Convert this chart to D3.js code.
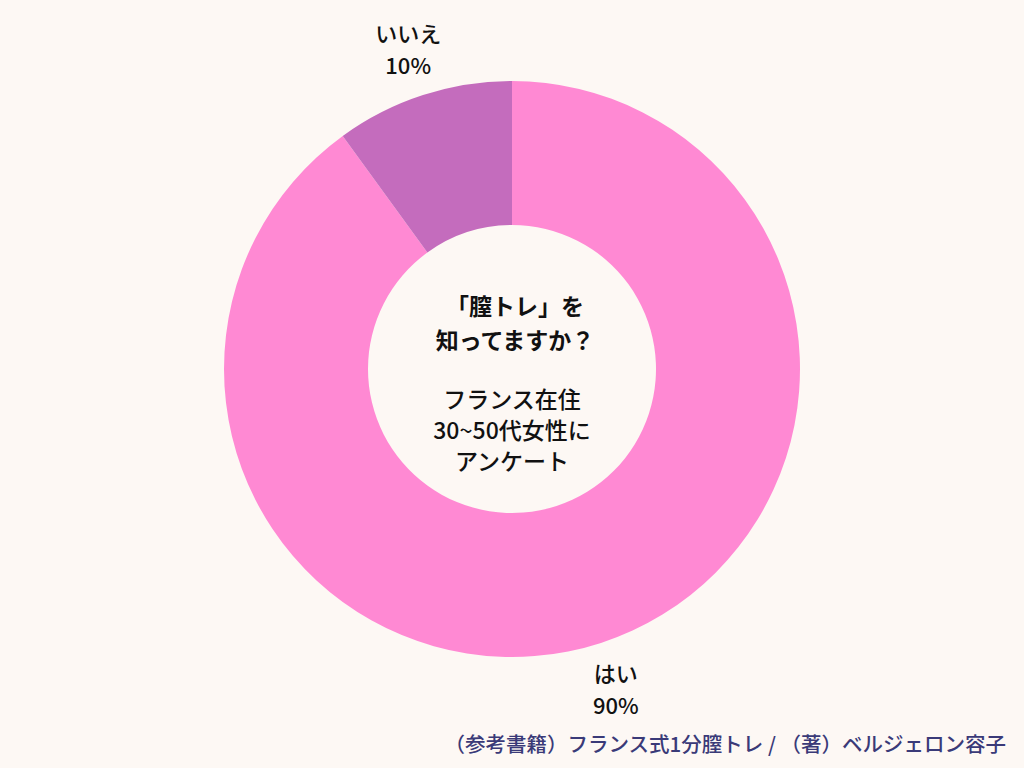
<!DOCTYPE html>
<html><head><meta charset="utf-8">
<script src="https://cdn.jsdelivr.net/npm/d3@7"></script>
<style>
html,body{margin:0;padding:0;background:#fdf8f4;}
text{font-family:"Noto Sans CJK JP","Noto Sans",sans-serif;}
</style></head>
<body>
<svg id="c" width="1024" height="768"></svg>
<script>
const categories = ["はい", "いいえ"];
const values = [90, 10];
const colors = ["#ff89d3", "#c46cbd"];
const centerTitle = ["「膣トレ」を", "知ってますか？"];
const centerSub = ["フランス在住", "30~50代女性に", "アンケート"];
const footer = "（参考書籍）フランス式1分膣トレ / （著）ベルジェロン容子";

const svg = d3.select("#c");
svg.append("rect").attr("width",1024).attr("height",768).attr("fill","#fdf8f4");
const cx = 512, cy = 369, R = 288, r = 144;
const g = svg.append("g").attr("transform",`translate(${cx},${cy})`);
const pie = d3.pie().sort(null).value(d=>d.v);
const data = pie(categories.map((c,i)=>({c, v:values[i], col:colors[i]})));
const arc = d3.arc().innerRadius(r).outerRadius(R);
g.selectAll("path").data(data).join("path").attr("d",arc).attr("fill",d=>d.data.col);

const labelArc = d3.arc().innerRadius(336).outerRadius(336);
data.forEach(d=>{
  const [x,y] = labelArc.centroid(d);
  const t = g.append("text").attr("text-anchor","middle").attr("font-size",22).attr("font-weight",500).attr("fill","#111");
  t.append("tspan").attr("x",x).attr("y",y-7).text(d.data.c);
  t.append("tspan").attr("x",x).attr("y",y+25).text(d.data.v+"%");
});

const ct = g.append("text").attr("text-anchor","middle").attr("font-size",23).attr("fill","#111");
centerTitle.forEach((s,i)=>ct.append("tspan").attr("x",3).attr("y",-54+i*34).attr("font-weight","bold").text(s));
centerSub.forEach((s,i)=>ct.append("tspan").attr("x",0).attr("y",39+i*31).attr("font-weight",500).text(s));

svg.append("text").attr("x",1006).attr("y",752).attr("text-anchor","end").attr("font-size",20.5)
  .attr("font-weight",500).attr("fill","#3a3a78").text(footer);
</script>
</body></html>
